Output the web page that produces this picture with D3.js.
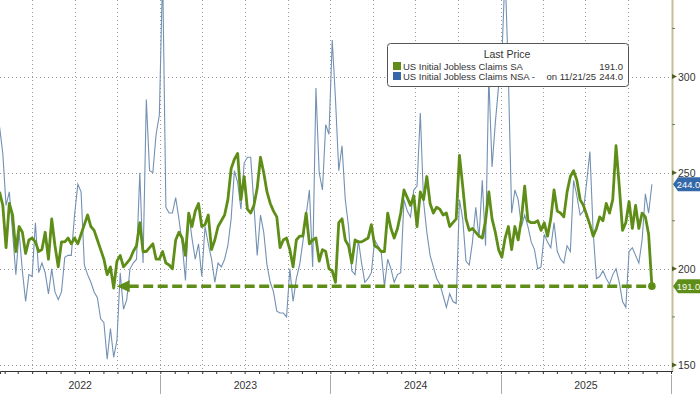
<!DOCTYPE html>
<html>
<head>
<meta charset="utf-8">
<script src="https://cdn.jsdelivr.net/npm/d3@7"></script>
<style>
  body { margin: 0; background: #fff; }
  svg { display: block; font-family: "Liberation Sans", Arial, sans-serif; }
</style>
</head>
<body>
<svg id="chart" width="700" height="394"></svg>
<script>
// weekly readings (thousands), Fridays from 1/21/22 to 11/21/25
const firstWeek = "2022-01-21";

const saClaims = [
  240,233,211,234,228,209,222,219,208,215, 216,214,209,210,219,205,226,212,201,214,
  214,216,213,216,213,218,223,228,222,220, 215,210,205,197,201,190,204,207,201,203,
  205,209,212,224,209,209,211,213,205,205, 209,203,202,200,215,219,216,207,229,222,
  230,234,222,223,228,210,215,222,225,228, 236,252,257,260,236,248,231,229,233,242,
  258,250,240,234,230,227,211,215,216,210, 201,215,217,217,229,213,215,216,204,210,
  209,200,199,193,224,226,215,212,203,215, 214,214,215,216,223,212,211,209,209,229,
  221,216,221,229,241,237,233,238,222,240, 236,248,234,229,232,231,228,229,222,224,
  226,259,243,226,220,221,219,217,216,225, 240,226,219,210,206,216,222,210,222,215,
  226,243,225,224,224,225,220,224,217,226, 241,230,229,227,240,248,251,246,236,233,
  228,223,217,221,227,225,234,229,236,264, 243,220,224,235,221,233,221,229,227,218,
  191
];

const nsaClaims = [
  274,260,233,240,219,197,219,199,183,197, 196,224,198,203,198,187,200,188,184,188,
  206,207,207,228,244,240,202,197,193,188, 185,174,172,153,169,154,163,198,179,184,
  200,203,205,250,203,288,251,250,270,280, 355,232,229,229,237,226,213,194,229,216,
  205,213,196,222,213,205,193,203,201,205, 212,226,251,245,231,255,258,258,233,207,
  228,219,202,193,188,178,177,177,175,200, 183,195,202,214,228,241,201,294,250,241,
  275,270,319,288,251,264,236,222,199,197, 215,203,193,195,198,215,212,209,191,205,
  200,193,197,198,236,230,227,241,243,281, 235,219,207,201,195,192,186,180,187,183,
  182,236,226,204,202,214,232,216,246,212, 300,253,276,295,310,355,300,229,241,236,
  222,228,222,214,210,200,201,218,214,211, 224,209,205,203,212,209,246,238,228,230,
  245,261,219,195,196,199,195,192,197,200, 193,183,180,209,211,207,203,215,239,229,
  244
];

const seriesNames = ["US Initial Jobless Claims SA", "US Initial Jobless Claims NSA -"];
const lastDateLabel = "on 11/21/25";
const yTicks = [150, 200, 250, 300];
const yMinorTicks = [175, 225, 275, 325];
const years = [2022, 2023, 2024, 2025];
const lowWeek = 35; // the Sept 2022 low the arrow points back to

const green = "#5e8e17", blue = "#7391b3", blueTag = "#3568a8";
const width = 700, height = 394;
const plotRight = 672, axisY = 371;

const svg = d3.select("#chart");

const start = d3.timeParse("%Y-%m-%d")(firstWeek);
const dates = saClaims.map((d, i) => d3.timeDay.offset(start, 7 * i));

const x = d3.scaleTime()
  .domain([new Date(2022, 0, 22), new Date(2026, 0, 1)])
  .range([0, 671]);
const y = d3.scaleLinear().domain([150, 300]).range([365, 76.5]);

svg.append("defs").append("clipPath").attr("id", "plot")
  .append("rect").attr("x", 0).attr("y", 0).attr("width", plotRight).attr("height", axisY);

// dotted grid
const grid = svg.append("g").attr("stroke", "#9a9a9a").attr("stroke-dasharray", "1,3").attr("stroke-width", 1);
grid.selectAll(".hg").data(yTicks).join("line")
  .attr("x1", 0).attr("x2", plotRight)
  .attr("y1", d => Math.round(y(d)) + 0.5).attr("y2", d => Math.round(y(d)) + 0.5);
const quarters = d3.timeMonth.every(3).range(x.domain()[0], x.domain()[1]);
grid.selectAll(".vg").data(quarters).join("line")
  .attr("x1", d => Math.round(x(d)) + 0.5).attr("x2", d => Math.round(x(d)) + 0.5)
  .attr("y1", 0).attr("y2", axisY);

// lines
const plot = svg.append("g").attr("clip-path", "url(#plot)");
const line = values => d3.line().x((d, i) => x(dates[i])).y(d => y(d))(values);

plot.append("path").attr("d", line(nsaClaims))
  .attr("fill", "none").attr("stroke", blue).attr("stroke-width", 1.1);
plot.append("path").attr("d", line(saClaims))
  .attr("fill", "none").attr("stroke", green).attr("stroke-width", 2.8)
  .attr("stroke-linejoin", "round");

// dashed arrow from the latest value back to the Sept 2022 low
const lastSA = saClaims[saClaims.length - 1];
const lastNSA = nsaClaims[nsaClaims.length - 1];
const ay = y(lastSA);
const tipX = x(dates[lowWeek]) + 3;
plot.append("line")
  .attr("x1", tipX + 12).attr("x2", x(dates[dates.length - 1]))
  .attr("y1", ay).attr("y2", ay)
  .attr("stroke", green).attr("stroke-width", 3.5).attr("stroke-dasharray", "10,4.5");
plot.append("path")
  .attr("d", `M${tipX},${ay} L${tipX + 13},${ay - 6} L${tipX + 13},${ay + 6} Z`)
  .attr("fill", green);
plot.append("circle")
  .attr("cx", x(dates[dates.length - 1])).attr("cy", ay).attr("r", 3.8)
  .attr("fill", green);

// bottom axis
const xAxis = svg.append("g").attr("transform", `translate(0,${axisY})`)
  .call(d3.axisBottom(x).ticks(d3.timeMonth.every(1)).tickSize(3).tickFormat(""));
xAxis.select(".domain").attr("stroke", "#333");
xAxis.selectAll(".tick line").attr("stroke", "#333");

const yearStarts = years.map(yr => new Date(yr + 1, 0, 1));
svg.append("g").selectAll("line").data(yearStarts).join("line")
  .attr("x1", d => Math.round(x(d)) + 0.5).attr("x2", d => Math.round(x(d)) + 0.5)
  .attr("y1", axisY + 4).attr("y2", height)
  .attr("stroke", "#aaa");
svg.append("g").selectAll("text").data(years).join("text")
  .attr("x", yr => (Math.max(0, x(new Date(yr, 0, 1))) + x(new Date(yr + 1, 0, 1))) / 2)
  .attr("y", 389)
  .attr("text-anchor", "middle")
  .attr("font-size", 10.5).attr("fill", "#333")
  .text(d => d);

// right axis
svg.append("line")
  .attr("x1", plotRight + 0.5).attr("x2", plotRight + 0.5)
  .attr("y1", 0).attr("y2", axisY)
  .attr("stroke", "#c3bf98").attr("stroke-width", 2);
svg.append("line")
  .attr("x1", plotRight - 4).attr("x2", plotRight + 1)
  .attr("y1", axisY + 0.5).attr("y2", axisY + 0.5).attr("stroke", "#333");
svg.append("g").selectAll("line").data(yMinorTicks).join("line")
  .attr("x1", plotRight).attr("x2", plotRight + 3)
  .attr("y1", d => y(d)).attr("y2", d => y(d))
  .attr("stroke", "#777");
svg.append("g").selectAll("path").data(yTicks).join("path")
  .attr("d", d => `M${plotRight},${y(d) - 2.5} L${plotRight + 5},${y(d)} L${plotRight},${y(d) + 2.5} Z`)
  .attr("fill", "#4f6020");
svg.append("g").selectAll("text").data(yTicks).join("text")
  .attr("x", plotRight + 6).attr("y", d => y(d) + 4)
  .attr("font-size", 10.5).attr("fill", "#333")
  .text(d => d);

// last value tags
const tags = [
  { v: lastNSA, color: blueTag },
  { v: lastSA, color: green }
];
const tag = svg.append("g").selectAll("g").data(tags).join("g")
  .attr("transform", d => `translate(${plotRight + 1},${y(d.v)})`);
tag.append("path")
  .attr("d", "M0,0 L5,-7 L27,-7 L27,7 L5,7 Z")
  .attr("fill", d => d.color);
tag.append("text")
  .attr("x", 15.5).attr("y", 3.5)
  .attr("text-anchor", "middle")
  .attr("font-size", 9.3).attr("fill", "#fff")
  .text(d => d3.format(".1f")(d.v));

// legend
const lg = svg.append("g").attr("transform", "translate(387,43)");
lg.append("rect")
  .attr("x", 0.5).attr("y", 0.5).attr("width", 241).attr("height", 43).attr("rx", 3)
  .attr("fill", "#fff").attr("stroke", "#555");
lg.append("text").attr("x", 120).attr("y", 15)
  .attr("text-anchor", "middle").attr("font-size", 10.5).attr("fill", "#333")
  .text("Last Price");
const rows = [
  { name: seriesNames[0], date: "", v: lastSA, color: green },
  { name: seriesNames[1], date: lastDateLabel, v: lastNSA, color: blueTag }
];
const row = lg.selectAll(".row").data(rows).join("g")
  .attr("transform", (d, i) => `translate(0,${22 + i * 10})`);
row.append("rect").attr("x", 6).attr("y", -3).attr("width", 8).attr("height", 8)
  .attr("fill", d => d.color);
row.append("text").attr("x", 16).attr("y", 5)
  .attr("font-size", 9.5).attr("fill", "#333").text(d => d.name);
row.append("text").attr("x", 209).attr("y", 5).attr("text-anchor", "end")
  .attr("font-size", 9.5).attr("fill", "#333").text(d => d.date);
row.append("text").attr("x", 236).attr("y", 5).attr("text-anchor", "end")
  .attr("font-size", 9.5).attr("fill", "#333")
  .text(d => d3.format(".1f")(d.v));
</script>
</body>
</html>
